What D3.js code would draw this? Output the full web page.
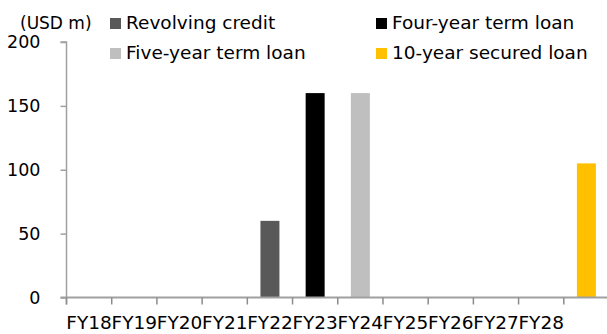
<!DOCTYPE html>
<html>
<head>
<meta charset="utf-8">
<script src="https://cdn.jsdelivr.net/npm/d3@7/dist/d3.min.js"></script>
<style>
  html, body { margin: 0; padding: 0; background: #fff; }
  svg { display: block; }
  text { font-family: "DejaVu Sans", Verdana, sans-serif; fill: #000; }
</style>
</head>
<body>
<svg id="chart" width="607" height="334"></svg>
<script>
// ---- data ----
const categories = ["FY18","FY19","FY20","FY21","FY22","FY23","FY24","FY25","FY26","FY27","FY28","FY29"];
const tickLabels = ["FY18","FY19","FY20","FY21","FY22","FY23","FY24","FY25","FY26","FY27","FY28",""];
const seriesNames = ["Revolving credit","Four-year term loan","Five-year term loan","10-year secured loan"];
const seriesColors = ["#595959","#000000","#bfbfbf","#ffc000"];
const revolvingCredit   = [0,0,0,0,60,0,0,0,0,0,0,0];
const fourYearTermLoan  = [0,0,0,0,0,160,0,0,0,0,0,0];
const fiveYearTermLoan  = [0,0,0,0,0,0,160,0,0,0,0,0];
const tenYearSecured    = [0,0,0,0,0,0,0,0,0,0,0,105];
const yTicks = [0,50,100,150,200];
const unitLabel = "(USD m)";

const seriesValues = [revolvingCredit, fourYearTermLoan, fiveYearTermLoan, tenYearSecured];

const svg = d3.select("#chart");
const mLeft = 66.5, mRight = 609, mTop = 42, mBottom = 297.5;

const x = d3.scaleBand().domain(categories).range([mLeft, mRight]).padding(0);
const y = d3.scaleLinear().domain([0, 200]).range([mBottom, mTop]);

const axisColor = "#a0a0a0";

// bars
const barW = x.bandwidth() * 0.42;
seriesValues.forEach((vals, si) => {
  svg.append("g").selectAll("rect")
    .data(vals.map((v, i) => ({ c: categories[i], v })).filter(d => d.v > 0))
    .join("rect")
    .attr("x", d => x(d.c) + (x.bandwidth() - barW) / 2)
    .attr("width", barW)
    .attr("y", d => y(d.v))
    .attr("height", d => y(0) - y(d.v))
    .attr("fill", seriesColors[si]);
});

// y axis
const yAxis = svg.append("g")
  .attr("transform", `translate(${mLeft},0)`)
  .call(d3.axisLeft(y).tickValues(yTicks).tickSize(6).tickPadding(20).tickFormat(d3.format("d")));
yAxis.select(".domain").attr("stroke", axisColor).attr("stroke-width", 1.5)
  .attr("d", `M-6,${mTop}H0V${mBottom + 7}`);
yAxis.selectAll(".tick line").attr("stroke", axisColor).attr("stroke-width", 1.5);
yAxis.selectAll(".tick text").style("font-size", "17.5px").attr("font-family", null).attr("fill", "#000");

// x axis line
svg.append("line")
  .attr("x1", mLeft - 6).attr("x2", 607)
  .attr("y1", y(0)).attr("y2", y(0))
  .attr("stroke", axisColor).attr("stroke-width", 2);

// x boundary ticks
const bounds = categories.map(c => x(c)).concat([x.range()[1]]);
svg.append("g").selectAll("line")
  .data(bounds)
  .join("line")
  .attr("x1", d => d).attr("x2", d => d)
  .attr("y1", y(0)).attr("y2", y(0) + 7)
  .attr("stroke", "#8c8c8c").attr("stroke-width", 1.5);

// x labels
svg.append("g").selectAll("text")
  .data(categories.map((c, i) => ({ c, label: tickLabels[i] })))
  .join("text")
  .attr("x", d => x(d.c) + x.bandwidth() / 2)
  .attr("y", 329)
  .attr("text-anchor", "middle")
  .style("font-size", "18.5px")
  .text(d => d.label);

// unit label
svg.append("text")
  .attr("x", 20).attr("y", 28.5)
  .style("font-size", "17px")
  .text(unitLabel);

// legend
const legendPos = [[110, 18], [376, 18], [110, 48], [376, 48]];
seriesNames.forEach((name, i) => {
  const [lx, ly] = legendPos[i];
  svg.append("rect").attr("x", lx).attr("y", ly).attr("width", 11).attr("height", 11).attr("fill", seriesColors[i]);
  svg.append("text").attr("x", lx + 16).attr("y", ly + 11)
    .style("font-size", "18.5px")
    .text(name);
});
</script>
</body>
</html>
